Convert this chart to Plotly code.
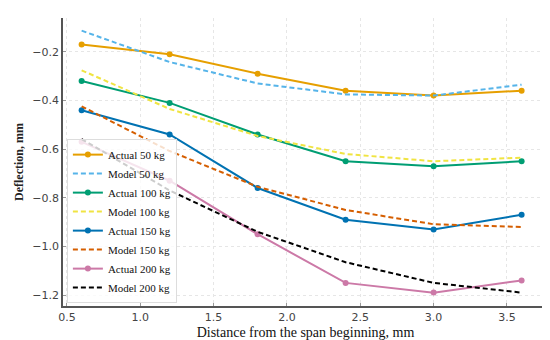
import plotly.graph_objects as go

x_pos = [0.6, 1.2, 1.8, 2.4, 3.0, 3.6]

actual_50 = [-0.17, -0.21, -0.29, -0.36, -0.38, -0.36]
model_50 = [-0.113, -0.242, -0.33, -0.375, -0.38, -0.335]
actual_100 = [-0.32, -0.41, -0.54, -0.65, -0.67, -0.65]
model_100 = [-0.276, -0.435, -0.546, -0.62, -0.65, -0.635]
actual_150 = [-0.44, -0.54, -0.76, -0.89, -0.93, -0.87]
model_150 = [-0.424, -0.608, -0.755, -0.85, -0.909, -0.92]
actual_200 = [-0.57, -0.73, -0.95, -1.15, -1.19, -1.14]
model_200 = [-0.559, -0.77, -0.94, -1.065, -1.15, -1.19]

series = [
    ("Actual 50 kg", actual_50, "#E69F00", "actual"),
    ("Model 50 kg", model_50, "#56B4E9", "model"),
    ("Actual 100 kg", actual_100, "#009E73", "actual"),
    ("Model 100 kg", model_100, "#F0E442", "model"),
    ("Actual 150 kg", actual_150, "#0072B2", "actual"),
    ("Model 150 kg", model_150, "#D55E00", "model"),
    ("Actual 200 kg", actual_200, "#CC79A7", "actual"),
    ("Model 200 kg", model_200, "#000000", "model"),
]

fig = go.Figure()
for name, ys, color, kind in series:
    if kind == "actual":
        fig.add_trace(go.Scatter(x=x_pos, y=ys, name=name, mode="lines+markers",
                                 line=dict(color=color, width=2),
                                 marker=dict(color=color, size=6)))
    else:
        fig.add_trace(go.Scatter(x=x_pos, y=ys, name=name, mode="lines",
                                 line=dict(color=color, width=2, dash="5px,3px")))

axis_common = dict(
    showgrid=True, gridcolor="#e6e6e6", gridwidth=1, griddash="dot",
    showline=True, linecolor="#555555", linewidth=1.5,
    ticks="inside", ticklen=3, tickcolor="#999999",
    tickfont=dict(family="DejaVu Sans", size=11, color="#444444"),
    zeroline=False, mirror=False,
)

fig.update_xaxes(range=[0.473, 3.78], tickvals=[0.5, 1.0, 1.5, 2.0, 2.5, 3.0, 3.5],
                 ticktext=["0.5", "1.0", "1.5", "2.0", "2.5", "3.0", "3.5"],
                 title=dict(text="Distance from the span beginning, mm",
                            font=dict(family="Liberation Serif", size=14, color="#111111"),
                            standoff=4),
                 **axis_common)
fig.update_yaxes(range=[-1.245, -0.061], tickvals=[-1.2, -1.0, -0.8, -0.6, -0.4, -0.2],
                 ticktext=["\u22121.2", "\u22121.0", "\u22120.8", "\u22120.6", "\u22120.4", "\u22120.2"],
                 title=dict(text="<b>Deflection, mm</b>",
                            font=dict(family="Liberation Serif", size=12, color="#222222"),
                            standoff=6),
                 **axis_common)

fig.update_layout(
    width=550, height=340,
    margin=dict(l=54, r=10, t=10, b=40),
    plot_bgcolor="white", paper_bgcolor="white",
    legend=dict(x=0.008, y=0.01, xanchor="left", yanchor="bottom",
                bgcolor="rgba(255,255,255,0.8)", bordercolor="#dddddd", borderwidth=1,
                font=dict(family="Liberation Serif", size=11, color="#111111"),
                tracegroupgap=0, itemwidth=30),
    showlegend=True,
)

fig.write_html("out.html")
